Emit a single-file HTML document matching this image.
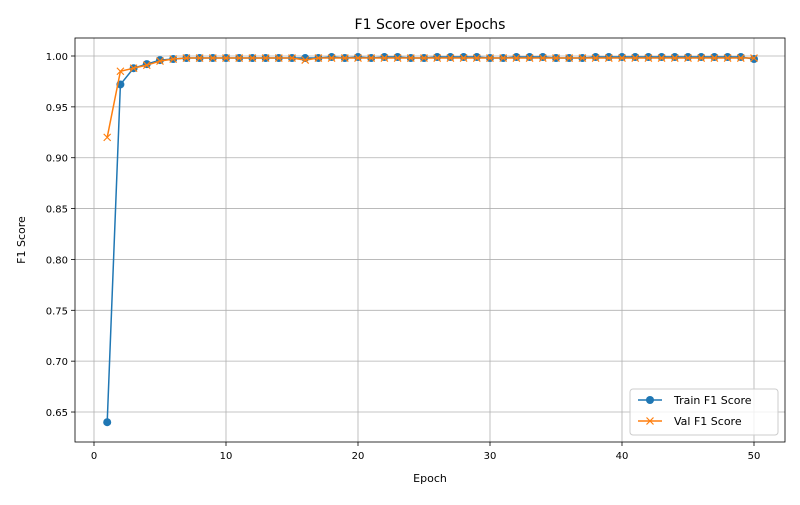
<!DOCTYPE html>
<html><head><meta charset="utf-8"><style>
body{margin:0;background:#fff;font-family:"Liberation Sans","DejaVu Sans",sans-serif}
svg text{font-family:"DejaVu Sans","Liberation Sans",sans-serif}
</style></head><body>
<svg id="chart" width="800" height="500" xmlns="http://www.w3.org/2000/svg"></svg>
<script>
const epochs = Array.from({length:50},(_,i)=>i+1);
const trainF1 = [0.640,0.972,0.988,0.992,0.996,0.997,0.998,0.998,0.998,0.998,0.998,0.998,0.998,0.998,0.998,0.998,0.998,0.999,0.998,0.999,0.998,0.999,0.999,0.998,0.998,0.999,0.999,0.999,0.999,0.998,0.998,0.999,0.999,0.999,0.998,0.998,0.998,0.999,0.999,0.999,0.999,0.999,0.999,0.999,0.999,0.999,0.999,0.999,0.999,0.997];
const valF1 = [0.920,0.985,0.988,0.991,0.995,0.997,0.998,0.998,0.998,0.998,0.998,0.998,0.998,0.998,0.998,0.996,0.998,0.998,0.998,0.998,0.998,0.998,0.998,0.998,0.998,0.998,0.998,0.998,0.998,0.998,0.998,0.998,0.998,0.998,0.998,0.998,0.998,0.998,0.998,0.998,0.998,0.998,0.998,0.998,0.998,0.998,0.998,0.998,0.998,0.998];
const xTicks = [0,10,20,30,40,50];
const yTicks = [0.65,0.70,0.75,0.80,0.85,0.90,0.95,1.00];

const L=75,R=785,T=38,B=442;
const xS=v=>94+(v-0)*13.2;
const yS=v=>56+(1.0-v)/0.05*50.86;
const svg=document.getElementById('chart');
const NS='http://www.w3.org/2000/svg';
function mk(tag,attrs,parent){const e=document.createElementNS(NS,tag);for(const k in attrs)e.setAttribute(k,attrs[k]);(parent||svg).appendChild(e);return e;}

const grid=mk('g',{});


xTicks.forEach(t=>{
  const x=xS(t);
  mk('line',{x1:x,x2:x,y1:T,y2:B,stroke:'#b0b0b0','stroke-width':0.8},grid);
  mk('line',{x1:x,x2:x,y1:B,y2:B+4,stroke:'#000','stroke-width':0.8});
  const tx=mk('text',{x:x,y:B+17,'text-anchor':'middle','font-size':10});
  tx.textContent=t;
  
  
});
yTicks.forEach(t=>{
  const y=yS(t);
  mk('line',{x1:L,x2:R,y1:y,y2:y,stroke:'#b0b0b0','stroke-width':0.8},grid);
  mk('line',{x1:L-4,x2:L,y1:y,y2:y,stroke:'#000','stroke-width':0.8});
  const tx=mk('text',{x:L-7,y:y+4,'text-anchor':'end','font-size':10});
  tx.textContent=t.toFixed(2);
  
  
});

function series(vals,color,name,marker){
  const g=mk('g',{});
  
  
  mk('polyline',{points:vals.map((v,i)=>xS(epochs[i])+','+yS(v)).join(' '),fill:'none',stroke:color,'stroke-width':1.5},g);
  vals.forEach((v,i)=>{
    const x=xS(epochs[i]),y=yS(v);
    if(marker==='o') mk('circle',{cx:x,cy:y,r:4,fill:color},g);
    else mk('path',{d:`M${x-3.5},${y-3.5}L${x+3.5},${y+3.5}M${x-3.5},${y+3.5}L${x+3.5},${y-3.5}`,stroke:color,'stroke-width':1.2},g);
  });
}
series(trainF1,'#1f77b4','train-f1-series','o');
series(valF1,'#ff7f0e','val-f1-series','x');

const frame=mk('rect',{x:L,y:T,width:R-L,height:B-T,fill:'none',stroke:'#000','stroke-width':0.8});



const title=mk('text',{x:(L+R)/2,y:29,'text-anchor':'middle','font-size':14});
title.textContent='F1 Score over Epochs';


const xl=mk('text',{x:(L+R)/2,y:482,'text-anchor':'middle','font-size':11});
xl.textContent='Epoch';


const yl=mk('text',{x:25,y:240,'text-anchor':'middle','font-size':11,transform:'rotate(-90 25 240)'});
yl.textContent='F1 Score';



const lg=mk('g',{});


mk('rect',{x:630,y:389,width:148,height:46,rx:3,fill:'#fff','fill-opacity':0.8,stroke:'#ccc'},lg);
mk('line',{x1:638,x2:662,y1:400,y2:400,stroke:'#1f77b4','stroke-width':1.5},lg);
mk('circle',{cx:650,cy:400,r:4,fill:'#1f77b4'},lg);
const t1=mk('text',{x:674,y:404,'font-size':11},lg);t1.textContent='Train F1 Score';


mk('line',{x1:638,x2:662,y1:421,y2:421,stroke:'#ff7f0e','stroke-width':1.5},lg);
mk('path',{d:'M646.5,417.5L653.5,424.5M646.5,424.5L653.5,417.5',stroke:'#ff7f0e','stroke-width':1.2},lg);
const t2=mk('text',{x:674,y:425,'font-size':11},lg);t2.textContent='Val F1 Score';


</script>
</body></html>
